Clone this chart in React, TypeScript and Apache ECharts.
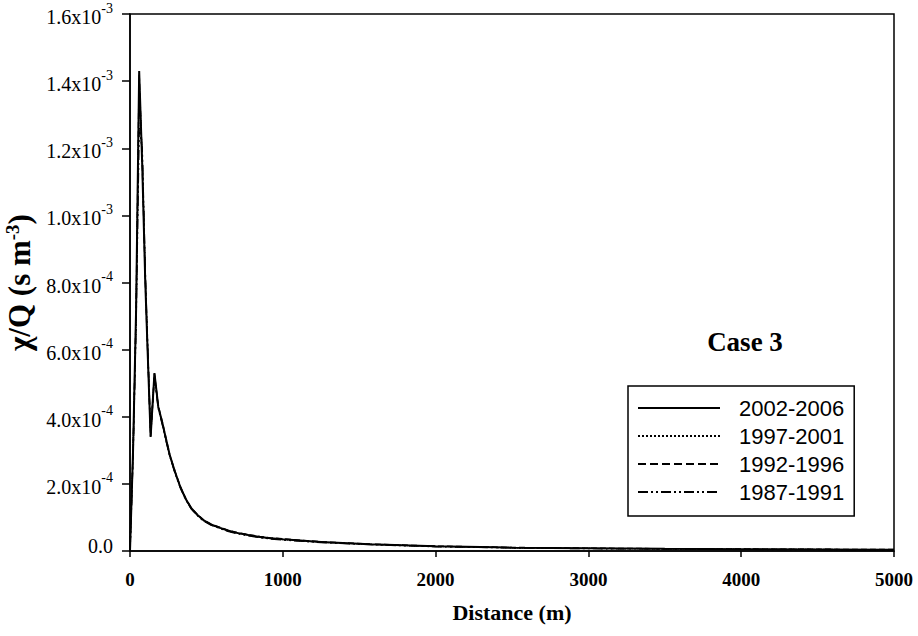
import React, { useEffect, useRef } from "react";
import * as echarts from "echarts";

// Distance (m)
const distances = [0, 20, 40, 60, 80, 100, 115, 135, 160, 185, 210, 235, 260, 295, 330, 365, 400, 440, 480, 530, 590, 640, 700, 775, 850, 920, 1000, 1250, 1570, 2000, 2500, 3000, 3500, 4000, 4500, 5000];

// chi/Q values (s m^-3)
const s2002 = [0, 3.0e-4, 7.2e-4, 1.43e-3, 1.15e-3, 8.0e-4, 6.0e-4, 3.4e-4, 5.3e-4, 4.3e-4, 3.85e-4, 3.35e-4, 2.86e-4, 2.35e-4, 1.9e-4, 1.55e-4, 1.28e-4, 1.08e-4, 9.2e-5, 7.9e-5, 6.9e-5, 6.1e-5, 5.4e-5, 4.75e-5, 4.2e-5, 3.8e-5, 3.5e-5, 2.7e-5, 2.0e-5, 1.4e-5, 1.0e-5, 8.0e-6, 6.5e-6, 5.5e-6, 4.8e-6, 4.0e-6];
const s1997 = [0, 2.9e-4, 7.0e-4, 1.40e-3, 1.18e-3, 8.2e-4, 6.1e-4, 3.45e-4, 5.25e-4, 4.28e-4, 3.82e-4, 3.32e-4, 2.84e-4, 2.33e-4, 1.89e-4, 1.54e-4, 1.27e-4, 1.07e-4, 9.1e-5, 7.8e-5, 6.8e-5, 6.0e-5, 5.3e-5, 4.65e-5, 4.1e-5, 3.7e-5, 3.4e-5, 2.6e-5, 1.95e-5, 1.35e-5, 9.6e-6, 7.6e-6, 6.2e-6, 5.2e-6, 4.5e-6, 3.8e-6];
const s1992 = [0, 2.95e-4, 7.1e-4, 1.42e-3, 1.16e-3, 8.1e-4, 6.05e-4, 3.42e-4, 5.28e-4, 4.32e-4, 3.87e-4, 3.37e-4, 2.87e-4, 2.36e-4, 1.91e-4, 1.56e-4, 1.29e-4, 1.09e-4, 9.3e-5, 8.0e-5, 7.0e-5, 6.2e-5, 5.5e-5, 4.85e-5, 4.3e-5, 3.9e-5, 3.6e-5, 2.75e-5, 2.05e-5, 1.45e-5, 1.05e-5, 8.3e-6, 6.8e-6, 5.7e-6, 5.0e-6, 4.2e-6];
const s1987 = [0, 2.85e-4, 6.9e-4, 1.26e-3, 1.20e-3, 8.3e-4, 6.2e-4, 3.5e-4, 5.2e-4, 4.25e-4, 3.8e-4, 3.3e-4, 2.83e-4, 2.32e-4, 1.88e-4, 1.53e-4, 1.26e-4, 1.06e-4, 9.0e-5, 7.7e-5, 6.7e-5, 5.9e-5, 5.2e-5, 4.55e-5, 4.0e-5, 3.6e-5, 3.3e-5, 2.55e-5, 1.9e-5, 1.3e-5, 9.3e-6, 7.3e-6, 6.0e-6, 5.0e-6, 4.3e-6, 3.6e-6];

const seriesNames = ["2002-2006", "1997-2001", "1992-1996", "1987-1991"];

// y tick labels: [mantissa, exponent]
const yTickLabels: [string, string][] = [
  ["0.0", ""],
  ["2.0x10", "-4"],
  ["4.0x10", "-4"],
  ["6.0x10", "-4"],
  ["8.0x10", "-4"],
  ["1.0x10", "-3"],
  ["1.2x10", "-3"],
  ["1.4x10", "-3"],
  ["1.6x10", "-3"],
];

const SERIF = "'Liberation Serif', 'DejaVu Serif', serif";
const SANS = "'Liberation Sans', Arial, sans-serif";

export default function App() {
  const ref = useRef<HTMLDivElement>(null);

  useEffect(() => {
    if (!ref.current) return;
    const chart = echarts.init(ref.current, null, { renderer: "svg" });

    const mk = (vals: number[]) => distances.map((d, i) => [d, vals[i]]);

    const lineStyles: any[] = [
      { type: "solid", width: 2 },
      { type: "dotted", width: 1.2 },
      { type: "dashed", width: 1.5 },
      { type: [10, 3, 2, 3, 2, 3], width: 1.5 },
    ];
    const allData = [s2002, s1997, s1992, s1987];

    const option: any = {
      animation: false,
      backgroundColor: "#ffffff",
      grid: {
        left: 130,
        right: 24,
        top: 14,
        bottom: 85,
        show: true,
        borderColor: "#000",
        borderWidth: 1.5,
        containLabel: false,
        outerBoundsMode: "none",
      },
      xAxis: {
        type: "value",
        min: 0,
        max: 5000,
        interval: 1000,
        name: "Distance (m)",
        nameLocation: "middle",
        nameGap: 50,
        nameTextStyle: { fontFamily: SERIF, fontWeight: "bold", fontSize: 22, color: "#000" },
        axisLine: { show: true, onZero: false, lineStyle: { color: "#000", width: 1.5 } },
        axisTick: { show: true, inside: false, length: 6, lineStyle: { color: "#000", width: 1.5 } },
        axisLabel: {
          margin: 19,
          fontFamily: SERIF,
          fontWeight: "bold",
          fontSize: 19,
          color: "#000",
          formatter: (v: number) => String(Math.round(v)),
        },
        splitLine: { show: false },
      },
      yAxis: {
        type: "value",
        min: 0,
        max: 1.6e-3,
        interval: 2e-4,
        name: "{a|χ/Q (s m}{s|-3}{a|)}",
        nameLocation: "middle",
        nameRotate: 90,
        nameGap: 87,
        nameTextStyle: {
          rich: {
            a: { fontFamily: SERIF, fontWeight: "bold", fontSize: 31, color: "#000", verticalAlign: "bottom", lineHeight: 32 },
            s: { fontFamily: SERIF, fontWeight: "bold", fontSize: 19, color: "#000", verticalAlign: "top", lineHeight: 32 },
          },
        },
        axisLine: { show: true, onZero: false, lineStyle: { color: "#000", width: 1.5 } },
        axisTick: { show: true, inside: false, length: 8, lineStyle: { color: "#000", width: 1.5 } },
        axisLabel: {
          margin: 17,
          formatter: (v: number) => {
            const idx = Math.round(v / 2e-4);
            const lab = yTickLabels[idx];
            if (!lab) return "";
            if (!lab[1]) return "{z|" + lab[0] + "}";
            return "{m|" + lab[0] + "}{e|" + lab[1] + "}";
          },
          rich: {
            m: { fontFamily: SERIF, fontSize: 20, color: "#000", verticalAlign: "bottom", lineHeight: 26, padding: [10, 0, 0, 0] },
            e: { fontFamily: SERIF, fontSize: 14, color: "#000", verticalAlign: "top", lineHeight: 26, padding: [0, 0, 10, 0] },
            z: { fontFamily: SERIF, fontSize: 20, color: "#000", padding: [0, 0, 10, 0] },
          },
        },
        splitLine: { show: false },
      },
      legend: {
        orient: "vertical",
        left: 628,
        top: 386,
        backgroundColor: "#fff",
        borderColor: "#000",
        borderWidth: 1.5,
        borderRadius: 0,
        padding: [11, 10, 13, 9],
        itemWidth: 82,
        itemHeight: 14,
        itemGap: 6,
        selectedMode: false,
        data: seriesNames,
        itemStyle: { color: "transparent", borderWidth: 0, opacity: 0 },
        textStyle: { fontFamily: SANS, fontSize: 22, color: "#000", lineHeight: 22, padding: [0, 0, 0, 14] },
      },
      graphic: [
        {
          type: "text",
          x: 745,
          y: 342,
          style: {
            text: "Case 3",
            fontFamily: SERIF,
            fontWeight: "bold",
            fontSize: 27,
            fill: "#000",
            align: "center",
            verticalAlign: "middle",
          },
        },
      ],
      series: seriesNames.map((name, i) => ({
        name,
        type: "line",
        data: mk(allData[i]),
        symbol: "none",
        showSymbol: false,
        smooth: false,
        lineStyle: { color: "#000", ...lineStyles[i] },
        itemStyle: { color: "#000" },
        z: 10 - i,
      })),
    };

    chart.setOption(option);
    return () => chart.dispose();
  }, []);

  return (
    <div
      ref={ref}
      style={{ position: "fixed", left: 0, top: 0, width: 918, height: 636, background: "#fff" }}
    />
  );
}
